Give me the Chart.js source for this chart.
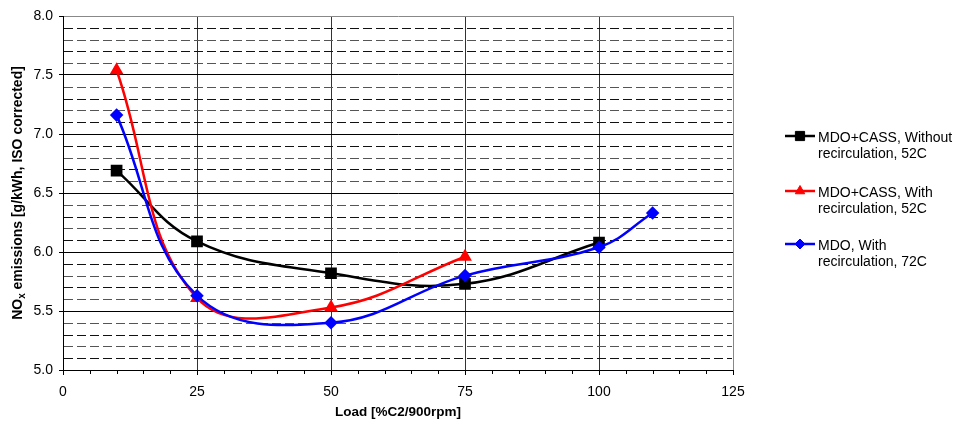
<!DOCTYPE html>
<html>
<head>
<meta charset="utf-8">
<script src="https://cdn.jsdelivr.net/npm/chart.js@4.4.1/dist/chart.umd.min.js"></script>
<style>
  html, body { margin: 0; padding: 0; background: #fff; }
  #wrap { width: 953px; height: 424px; position: relative; }
</style>
</head>
<body>
<div id="wrap"><canvas id="grafico" width="953" height="424"></canvas></div>
<script>
// values
const loadBlack = [10, 25, 50, 75, 100];
const noxBlack = [6.69, 6.09, 5.82, 5.73, 6.08];
const loadRed = [10, 25, 50, 75];
const noxRed = [7.54, 5.61, 5.53, 5.96];
const loadBlue = [10, 25, 50, 75, 100, 110];
const noxBlue = [7.16, 5.63, 5.40, 5.80, 6.04, 6.33];

const seriesNames = [
    ['MDO+CASS, Without', 'recirculation, 52C'],
    ['MDO+CASS, With', 'recirculation, 52C'],
    ['MDO, With', 'recirculation, 72C']
];
const xTicks = [0, 25, 50, 75, 100, 125];
const yTicks = [5.0, 5.5, 6.0, 6.5, 7.0, 7.5, 8.0];

const FONT = "'Liberation Sans', Arial, sans-serif";

function puntos(xs, ys) {
    return xs.map((x, i) => ({ x: x, y: ys[i] }));
}

// dashed minor lines, minor ticks, y title, legend
const extras = {
    id: 'extras',
    beforeDatasetsDraw(chart) {
        const ctx = chart.ctx;
        const a = chart.chartArea;
        const y = chart.scales.y;
        ctx.save();
        ctx.lineWidth = 1;
        ctx.setLineDash([9, 4]);
        for (let i = 51; i < 80; i++) {
            if (i % 5 === 0) continue;
            const py = Math.round(y.getPixelForValue(i / 10)) + 0.5;
            ctx.strokeStyle = (i % 2) ? '#111' : '#555';
            ctx.beginPath();
            ctx.moveTo(a.left + 1, py);
            ctx.lineTo(a.right - 1, py);
            ctx.stroke();
        }
        ctx.restore();
    },
    afterDraw(chart) {
        const ctx = chart.ctx;
        const a = chart.chartArea;
        const x = chart.scales.x;
        ctx.save();
        // minor x ticks
        ctx.strokeStyle = '#000';
        ctx.lineWidth = 1;
        for (let v = 5; v < 125; v += 5) {
            if (v % 25 === 0) continue;
            const px = Math.round(x.getPixelForValue(v)) + 0.5;
            ctx.beginPath();
            ctx.moveTo(px, a.bottom);
            ctx.lineTo(px, a.bottom + 4);
            ctx.stroke();
        }

        // y title with subscript
        ctx.translate(18, (a.top + a.bottom) / 2);
        ctx.rotate(-Math.PI / 2);
        ctx.fillStyle = '#000';
        ctx.textBaseline = 'middle';
        ctx.textAlign = 'left';
        const big = 'bold 14px ' + FONT;
        const small = 'bold 10px ' + FONT;
        const p1 = 'NO', p2 = 'x', p3 = ' emissions [g/kWh, ISO corrected]';
        ctx.font = big;
        const w1 = ctx.measureText(p1).width;
        const w3 = ctx.measureText(p3).width;
        ctx.font = small;
        const w2 = ctx.measureText(p2).width;
        let sx = -(w1 + w2 + w3) / 2;
        ctx.font = big;
        ctx.fillText(p1, sx, 0);
        sx += w1;
        ctx.font = small;
        ctx.fillText(p2, sx, 4);
        sx += w2;
        ctx.font = big;
        ctx.fillText(p3, sx, 0);
        ctx.setTransform(1, 0, 0, 1, 0, 0);

        // legend
        const legendY = [136, 191, 244];
        chart.data.datasets.forEach((ds, i) => {
            const ly = legendY[i];
            ctx.strokeStyle = ds.borderColor;
            ctx.fillStyle = ds.borderColor;
            ctx.lineWidth = 2.5;
            ctx.beginPath();
            ctx.moveTo(785, ly);
            ctx.lineTo(815, ly);
            ctx.stroke();
            ctx.lineWidth = 1;
            Chart.helpers.drawPoint(ctx, {
                pointStyle: ds.pointStyle,
                radius: ds.pointRadius,
                borderWidth: 1,
                rotation: 0
            }, 800, ly);
            ctx.fillStyle = '#000';
            ctx.font = '14px ' + FONT;
            ctx.textBaseline = 'middle';
            ctx.textAlign = 'left';
            seriesNames[i].forEach((t, j) => ctx.fillText(t, 818, ly + 2 + j * 16));
        });
        ctx.restore();
    }
};

const ctx = document.getElementById('grafico').getContext('2d');

window.grafico = new Chart(ctx, {
    type: 'line',
    data: {
        datasets: [{
            label: seriesNames[0].join(' '),
            data: puntos(loadBlack, noxBlack),
            borderColor: '#000000',
            backgroundColor: '#000000',
            pointStyle: 'rect',
            pointRadius: 6.5,
            borderWidth: 2.5,
            order: 3
        }, {
            label: seriesNames[1].join(' '),
            data: puntos(loadRed, noxRed),
            borderColor: '#ff0000',
            backgroundColor: '#ff0000',
            pointStyle: 'triangle',
            pointRadius: 5.5,
            borderWidth: 2.5,
            order: 2
        }, {
            label: seriesNames[2].join(' '),
            data: puntos(loadBlue, noxBlue),
            borderColor: '#0000ff',
            backgroundColor: '#0000ff',
            pointStyle: 'rectRot',
            pointRadius: 5,
            borderWidth: 2.5,
            order: 1
        }]
    },
    options: {
        responsive: false,
        animation: false,
        events: [],
        elements: {
            line: { tension: 0.4, fill: false },
            point: { borderWidth: 1 }
        },
        layout: { padding: { left: 0, right: 220, top: 16, bottom: 0 } },
        plugins: {
            legend: { display: false },
            tooltip: { enabled: false }
        },
        scales: {
            x: {
                type: 'linear',
                min: 0,
                max: 125,
                afterFit: s => { s.height = 54; },
                afterBuildTicks: s => { s.ticks = xTicks.map(v => ({ value: v })); },
                ticks: {
                    color: '#000',
                    font: { family: FONT, size: 14 },
                    padding: 9,
                    maxRotation: 0
                },
                grid: {
                    color: c => c.tick.value === 125 ? '#888' : (c.tick.value === 0 ? '#000' : '#333'),
                    lineWidth: 1,
                    tickLength: 5,
                    tickColor: '#000'
                },
                border: { color: '#000', width: 1 },
                title: {
                    display: true,
                    text: 'Load [%C2/900rpm]',
                    color: '#000',
                    font: { family: FONT, size: 13.5, weight: 'bold' },
                    padding: { top: 0, bottom: 4 }
                }
            },
            y: {
                type: 'linear',
                min: 5,
                max: 8,
                afterFit: s => { s.width = 63; },
                afterBuildTicks: s => { s.ticks = yTicks.map(v => ({ value: v })); },
                ticks: {
                    color: '#000',
                    font: { family: FONT, size: 14 },
                    padding: 6,
                    callback: v => v.toFixed(1)
                },
                grid: {
                    color: c => c.tick.value === 8 ? '#888' : '#000',
                    lineWidth: 1,
                    tickLength: 4,
                    tickColor: '#000'
                },
                border: { color: '#000', width: 1 }
            }
        }
    },
    plugins: [extras]
});
</script>
</body>
</html>
